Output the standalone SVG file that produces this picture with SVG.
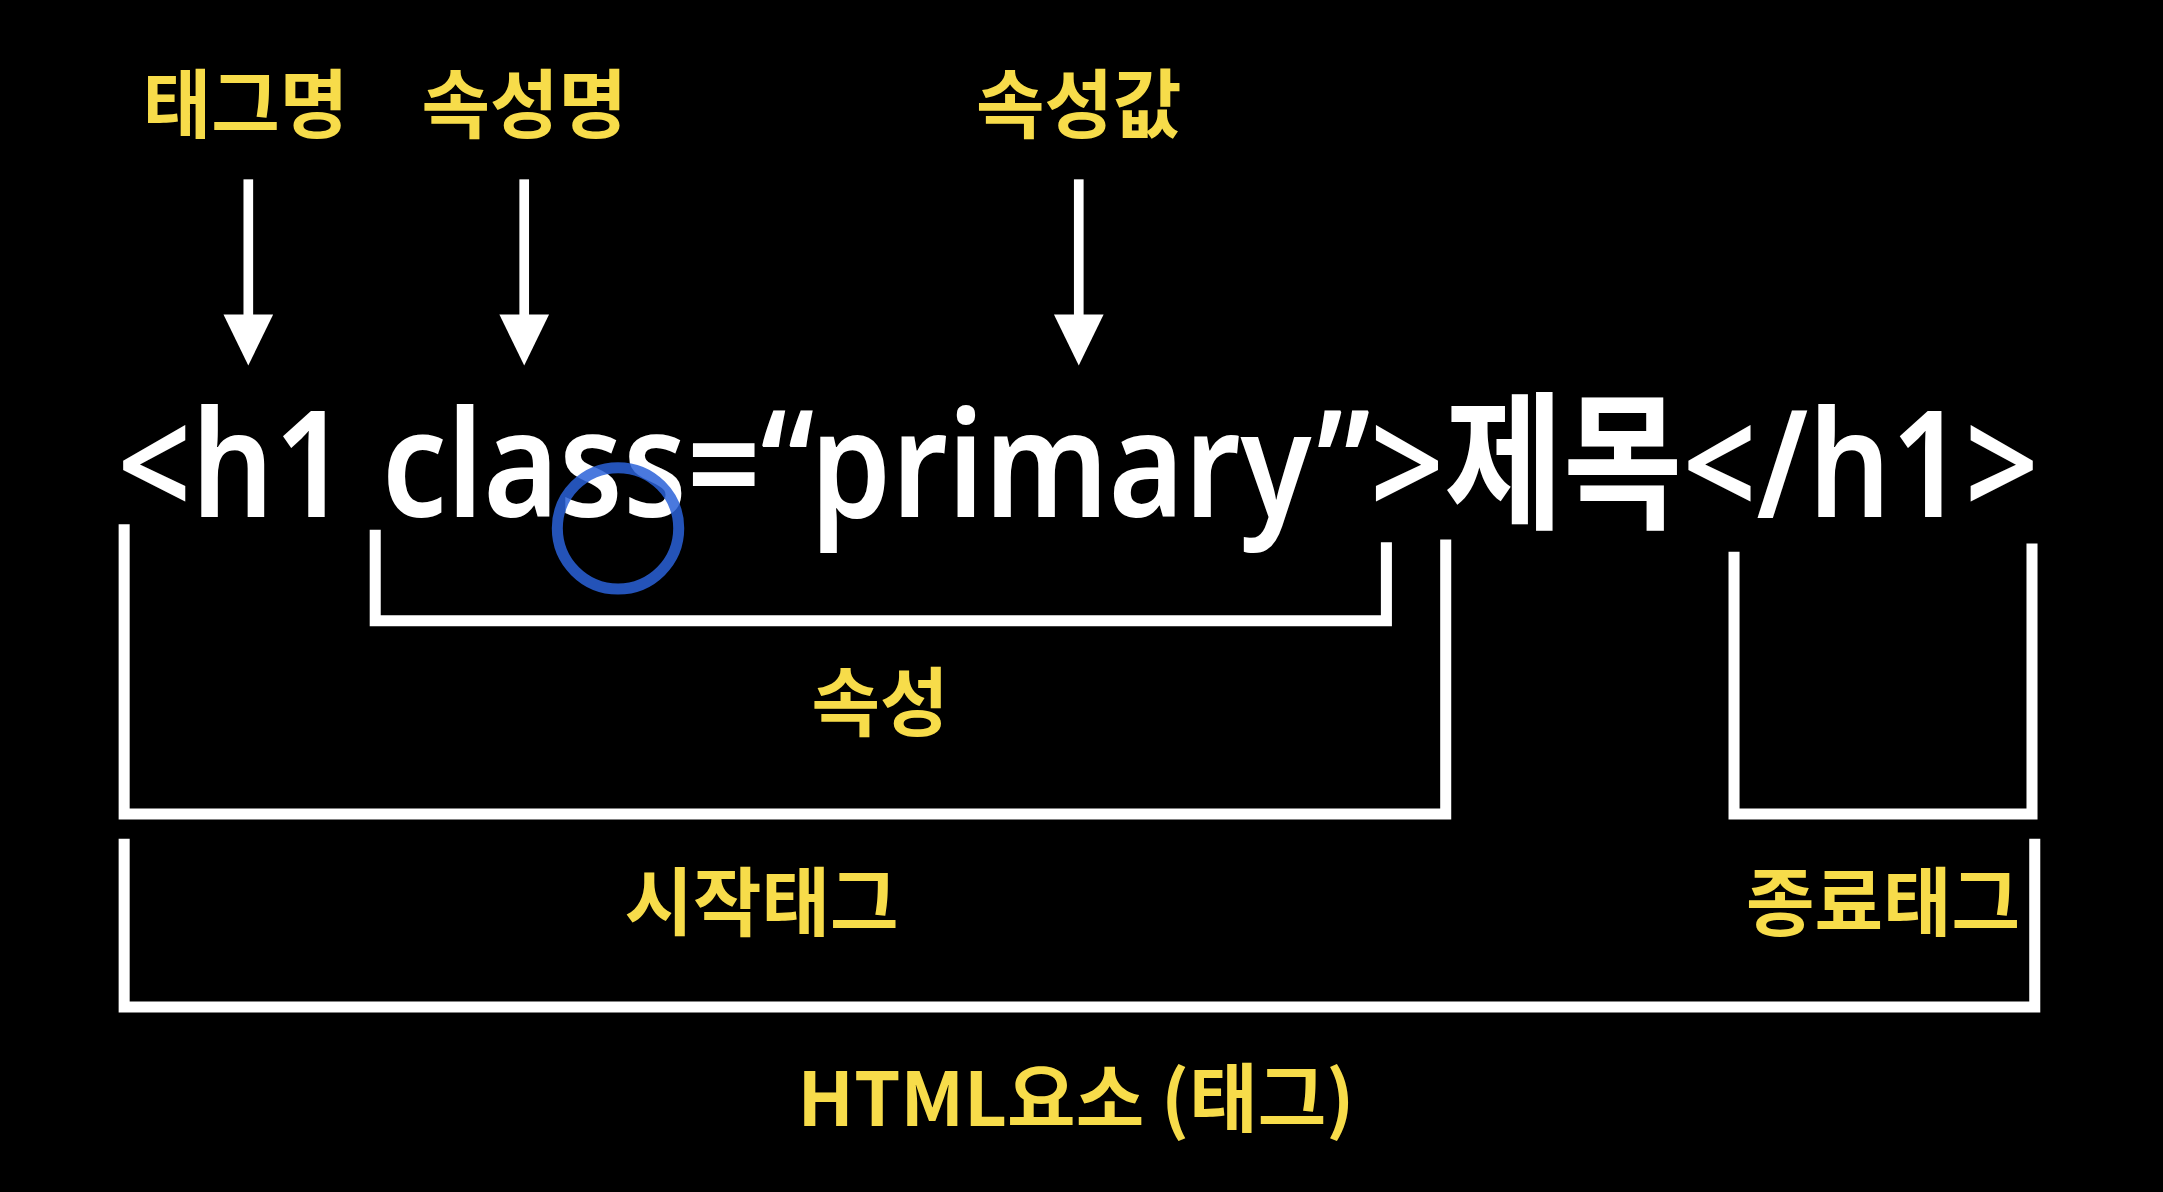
<svg xmlns="http://www.w3.org/2000/svg" width="2163" height="1192" viewBox="0 0 2163 1192">
<style>
.lbl{font-family:"Noto Sans CJK KR","Noto Sans",sans-serif;font-weight:700;font-size:54px;fill:#f7dc4a;text-anchor:middle}
.br{fill:none;stroke:#fff;stroke-width:8;stroke-linecap:square}
</style>
<rect width="2163" height="1192" fill="#000"/>
<g transform="scale(1.3795)">
<g id="labels">
<text class="lbl" x="178" y="96">태그명</text>
<text class="lbl" x="380" y="96">속성명</text>
<text class="lbl" x="782" y="96">속성값</text>
<text class="lbl" x="638" y="529">속성</text>
<text class="lbl" x="552" y="674">시작태그</text>
<text class="lbl" x="1365" y="674">종료태그</text>
<text class="lbl" x="780" y="816">HTML요소 (태그)</text>
</g>
<g id="code"><text x="85" y="375" textLength="1393" lengthAdjust="spacingAndGlyphs" style="font-family:'Noto Sans','Noto Sans CJK KR',sans-serif;font-weight:600;font-size:108px;fill:#fff">&lt;h1 class=“primary”&gt;제목&lt;/h1&gt;</text></g>
<g id="connectors">
<g fill="#fff">
<rect x="176.5" y="130" width="7" height="100"/><path d="M162 228L198 228L180 265Z"/>
<rect x="376.5" y="130" width="7" height="100"/><path d="M362 228L398 228L380 265Z"/>
<rect x="778.5" y="130" width="7" height="100"/><path d="M764 228L800 228L782 265Z"/>
</g>
<path class="br" d="M272 388V450H1005V397"/>
<path class="br" d="M90 384V590H1048V395"/>
<path class="br" d="M1257 404V590H1473V398"/>
<path class="br" d="M90 612V730H1475V612"/>
</g>
<circle cx="448" cy="383" r="44" fill="none" stroke="#2a62d8" stroke-width="8" opacity="0.85"/>
</g>
</svg>
